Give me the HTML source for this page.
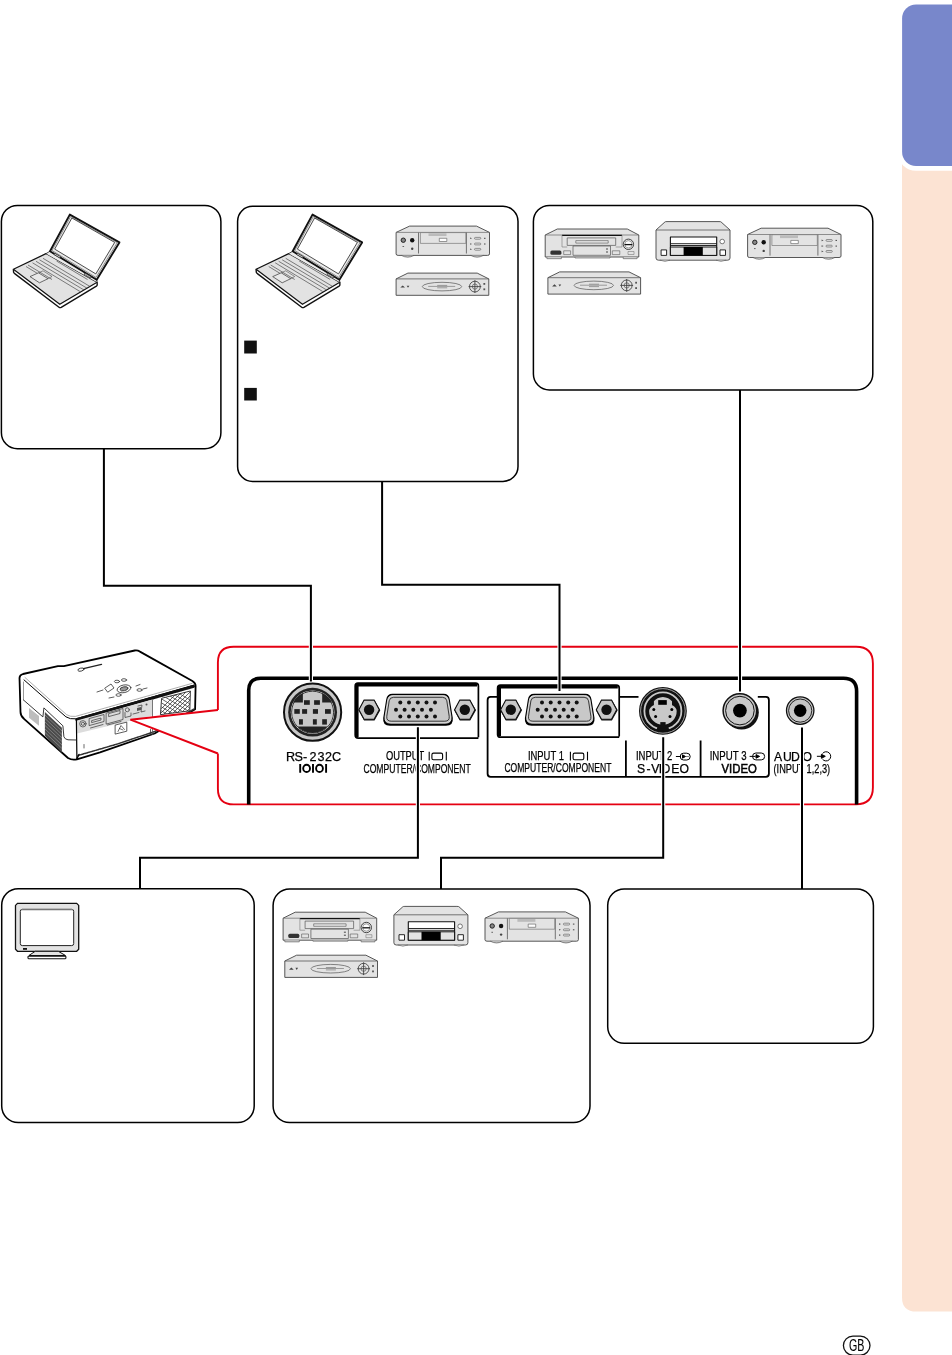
<!DOCTYPE html>
<html><head><meta charset="utf-8">
<style>
html,body{margin:0;padding:0;background:#fff;width:952px;height:1355px;overflow:hidden}
svg{display:block;position:absolute;left:0;top:0;will-change:transform}
text{font-family:"Liberation Sans",sans-serif;fill:#000;stroke:#000;stroke-width:0.25px}
</style></head><body>
<svg width="952" height="1355" viewBox="0 0 952 1355">
<defs>
<g id="vcr" stroke-linejoin="round">
  <path d="M557.3,229 H627.3 L638.8,235 V257 H545.2 V235 Z" fill="#e3e3e3" stroke="#444" stroke-width="0.9"/>
  <path d="M545.2,235 H638.8" stroke="#666" stroke-width="0.7"/>
  <path d="M562,235.4 H622" stroke="#111" stroke-width="1.1"/>
  <path d="M562,235 V247 H567.2 M615.7,247 H622 V235" fill="none" stroke="#777" stroke-width="0.6"/>
  <rect x="567.2" y="237.9" width="48.5" height="7.5" fill="#e3e3e3" stroke="#555" stroke-width="0.7"/>
  <rect x="575.8" y="240.6" width="32.4" height="2.5" fill="#e3e3e3" stroke="#555" stroke-width="0.6"/>
  <rect x="573" y="246" width="37.5" height="9.3" fill="#e3e3e3" stroke="#555" stroke-width="0.7"/>
  <path d="M606,249 h2 M606,252 h2" stroke="#333" stroke-width="0.9"/>
  <circle cx="628.4" cy="244.3" r="5.2" fill="#e3e3e3" stroke="#333" stroke-width="0.9"/>
  <circle cx="628.4" cy="244.3" r="3.6" fill="#fff" stroke="#555" stroke-width="0.5"/>
  <path d="M624.5,244.6 H632.3" stroke="#111" stroke-width="1.3"/>
  <rect x="550.4" y="250.6" width="11" height="4.2" rx="1.5" fill="#333"/>
  <rect x="563.7" y="250.8" width="6.9" height="3.8" fill="none" stroke="#555" stroke-width="0.6"/>
  <rect x="612.3" y="250.8" width="7.5" height="3.8" fill="none" stroke="#555" stroke-width="0.6"/>
  <rect x="628" y="251.5" width="6" height="3" fill="none" stroke="#666" stroke-width="0.5"/>
  <path d="M546.9,257 V258.7 H561.4 V257 M623.2,257 V258.7 H637.1 V257 M575,257 V258 H610 V257" fill="#ccc" stroke="#555" stroke-width="0.6"/>
</g>
<g id="dvd" stroke-linejoin="round">
  <path d="M664.9,222 Q665,221.6 667,221.6 H719 Q721,221.6 721.1,222 L730,230 V258 Q730,260.2 727.5,260.2 H658.5 Q656,260.2 656,258 V230 Z" fill="#e3e3e3" stroke="#444" stroke-width="0.9"/>
  <path d="M656,230 H730" stroke="#555" stroke-width="0.8"/>
  <rect x="670.4" y="237" width="46.3" height="18.4" fill="#fff" stroke="#111" stroke-width="1.1"/>
  <path d="M670.4,243.7 H716.7 M670.4,245.5 H716.7" stroke="#111" stroke-width="0.9"/>
  <rect x="670.4" y="247" width="46.3" height="8.4" fill="#e3e3e3" stroke="#111" stroke-width="1"/>
  <rect x="683.6" y="247" width="19.2" height="8.4" fill="#000"/>
  <rect x="661.1" y="249.9" width="5.5" height="5.5" fill="#fff" stroke="#111" stroke-width="0.9"/>
  <rect x="720" y="249.9" width="5.5" height="5.5" fill="#fff" stroke="#111" stroke-width="0.9"/>
  <circle cx="722.2" cy="241.5" r="2.3" fill="#fff" stroke="#444" stroke-width="0.7"/>
  <path d="M660,260.2 Q665,262.5 670,260.2 M716,260.2 Q721,262.5 726,260.2" fill="#ccc" stroke="#555" stroke-width="0.6"/>
</g>
<g id="cdp" stroke-linejoin="round">
  <path d="M761.1,228.2 H828 L841,234.5 V256 Q841,257.5 839,257.5 H749.6 Q747.6,257.5 747.6,256 V234.5 Z" fill="#e3e3e3" stroke="#444" stroke-width="0.9"/>
  <path d="M747.6,234.5 H841" stroke="#666" stroke-width="0.7"/>
  <path d="M770,234.7 V255.6 M817.9,234.7 V255.6" stroke="#555" stroke-width="0.8"/>
  <rect x="771.9" y="234.7" width="45.4" height="10.8" fill="#e3e3e3" stroke="#666" stroke-width="0.6"/>
  <rect x="780" y="235.3" width="18" height="2.8" fill="#bbb"/>
  <rect x="790.8" y="240.4" width="7.5" height="3.2" fill="#fff" stroke="#555" stroke-width="0.6"/>
  <circle cx="754.8" cy="242.3" r="2.2" fill="#888" stroke="#222" stroke-width="1"/>
  <circle cx="763.7" cy="242.3" r="2.2" fill="#111"/>
  <circle cx="763.7" cy="250.9" r="1.2" fill="#444"/>
  <path d="M754,248.6 h1.6" stroke="#444" stroke-width="0.8"/>
  <g fill="#555"><path d="M821.6,239.6 l2,0.8 l-2,0.8 Z M821.6,245.3 l2,0.8 l-2,0.8 Z M821.6,250.6 l2,0.8 l-2,0.8 Z"/></g>
  <g fill="none" stroke="#555" stroke-width="0.6"><rect x="826" y="239.5" width="6.3" height="1.8" rx="0.9"/><rect x="826" y="245.2" width="6.3" height="1.8" rx="0.9"/><rect x="826" y="250.5" width="6.3" height="1.8" rx="0.9"/></g>
  <path d="M835.5,240.4 h1.5 M835.5,246.1 h1.5" stroke="#444" stroke-width="1"/>
  <path d="M752.9,257.5 Q759.2,261 765.5,257.5 M822.3,257.5 Q828.6,261 834.9,257.5" fill="#ccc" stroke="#555" stroke-width="0.7"/>
</g>
<g id="stb" stroke-linejoin="round">
  <path d="M559.7,271.9 H629 L640.6,277.7 V294.1 H547.9 V277.7 Z" fill="#e3e3e3" stroke="#444" stroke-width="0.9"/>
  <path d="M547.9,277.7 H640.6" stroke="#555" stroke-width="0.8"/>
  <ellipse cx="593.8" cy="285.4" rx="19.7" ry="4.3" fill="none" stroke="#555" stroke-width="0.7"/>
  <path d="M580,285.2 H607 M589,284.2 H599 M589,286.6 H599" stroke="#666" stroke-width="0.6"/>
  <path d="M552.1,286.4 L554.5,284.2 L556.8,286.4 Z M558.5,284.5 H561.2 L559.8,286.6 Z" fill="#444"/>
  <circle cx="626.7" cy="285.4" r="5.4" fill="none" stroke="#333" stroke-width="0.8"/>
  <circle cx="626.7" cy="285.4" r="2.6" fill="none" stroke="#444" stroke-width="0.6"/>
  <path d="M626.7,279 V291.8 M620.3,285.4 H633.1" stroke="#333" stroke-width="0.8"/>
  <rect x="635.2" y="281.8" width="1.8" height="1.8" fill="#555"/><rect x="635.2" y="287.2" width="1.8" height="1.8" fill="#555"/>
</g>
<g id="monitor">
  <path d="M17.5,903.4 H76.7 L78.7,905.4 V949.3 L76.7,951.3 H17.5 L15.5,949.3 V905.4 Z" fill="#e3e3e3" stroke="#111" stroke-width="1.3"/>
  <rect x="20.3" y="909.3" width="53.4" height="36.3" rx="2" fill="#fff" stroke="#222" stroke-width="1"/>
  <path d="M21,909.8 H73" stroke="#888" stroke-width="1"/>
  <rect x="23" y="948" width="4" height="1.8" fill="#111"/>
  <path d="M35.2,951.3 H58.3 L65.5,955.5 H28.9 Z" fill="#e3e3e3" stroke="#111" stroke-width="1"/>
  <rect x="28" y="956.2" width="37.9" height="2.5" rx="0.6" fill="#fff" stroke="#111" stroke-width="1.1"/>
</g>
<g id="laptop" stroke-linejoin="round">
  <path d="M13.4,269.2 L13.6,272.3 Q14,273.2 15,273.9 L59,307.2 Q60,308 61.2,307.4 L96.4,286.2 Q97.3,285.6 97.2,284.6 L97.1,282.2" fill="#fff" stroke="#111" stroke-width="1.4"/>
  <path d="M13.4,269.2 L46,253.6 L97.1,282.2 L59.8,304.3 Z" fill="#e2e2e2" stroke="#111" stroke-width="1.2"/>
  <path d="M46,253.6 L50,251.2 L96.7,279.7 L97.1,282.2" fill="#ececec" stroke="#222" stroke-width="0.8"/>
  <path d="M69.8,214.6 L119.4,242.4 L96.7,279.7 L50,251.2 Z" fill="#fff" stroke="#111" stroke-width="1.9"/>
  <path d="M70.6,216.5 L117.3,242.6 L96,277.5 L52,250.5 Z" fill="#ececec" stroke="#444" stroke-width="0.6"/>
  <path d="M71.9,218 L114.7,242.4 L95.8,273.9 L54.7,249.1 Z" fill="#fff" stroke="#222" stroke-width="0.8"/>
  <path d="M54.7,253.2 L60.6,256.6 L59.8,258 L54,254.6 Z M84.8,273 L91.2,276.8 L90.6,278.2 L84.2,274.4 Z" fill="#ccc" stroke="#222" stroke-width="0.7"/>
  <g stroke="#333" stroke-width="0.6" fill="none">
    <path d="M56.5,261 L87.5,279.5"/>
    <path d="M28,265 L52,279.5 M32.5,262.8 L80,291.5 M36,261.3 L84,290 M39.5,259.8 L87,288.2 M43,258.3 L90,286.5 M26,266.5 L45,278"/>
    <path d="M30,276.6 L38.5,272.8 L48,278.7 L39.5,282.8 Z" fill="#e8e8e8" stroke-width="0.7"/>
    <path d="M38.5,272.8 L43,270.8 L52,276.5 L48,278.7" stroke-width="0.5"/>
  </g>
</g>
</defs>

<!-- sidebar -->
<path d="M902,0 H952 V1311.6 H916.4 Q902,1311.6 902,1297.2 Z" fill="#fce3d3"/>
<rect x="897.4" y="-20" width="80" height="190.8" rx="18.7" fill="#fff"/>
<rect x="902.1" y="4.4" width="80" height="161.7" rx="14" fill="#7887cb"/>

<!-- boxes -->
<g fill="none" stroke="#000" stroke-width="1.5">
  <rect x="1.4" y="205.4" width="219.5" height="243.3" rx="16"/>
  <rect x="237.6" y="206.3" width="280.4" height="275.1" rx="15"/>
  <rect x="533.4" y="205.4" width="339.4" height="184.6" rx="16"/>
  <rect x="1.7" y="888.7" width="252.5" height="233.9" rx="16.5"/>
  <rect x="273.1" y="888.9" width="316.9" height="233.7" rx="16.5"/>
  <rect x="607.7" y="888.9" width="265.7" height="154.4" rx="16.5"/>
</g>

<!-- bullets -->
<rect x="244.2" y="340.6" width="12.6" height="12.9" fill="#111"/>
<rect x="244.2" y="387.9" width="12.6" height="12.6" fill="#111"/>

<use href="#laptop"/>
<use href="#laptop" x="242.7" y="0"/>

<!-- devices -->
<use href="#cdp" x="-351.5" y="-2.1"/>
<use href="#stb" x="-151.8" y="1.2"/>
<use href="#vcr"/><use href="#dvd"/><use href="#cdp"/><use href="#stb"/>
<use href="#vcr" x="-262.1" y="683.2"/><use href="#dvd" x="-262.1" y="684.8"/><use href="#cdp" x="-262.6" y="683.7"/><use href="#stb" x="-263.1" y="683.3"/>
<use href="#monitor"/>

<!-- projector -->
<g id="projector" stroke-linejoin="round" stroke-linecap="round">
  <!-- body fill -->
  <path d="M19.5,678 Q19.5,675 23,674 L57.9,666.1 L63.9,666.1 L134.7,650.5 Q137.5,650 139.9,651.6 L192.4,681 Q195.6,683 195.6,686 L195.1,709.3 L154.6,733.5 L100,752.4 L76.9,759.3 Q72,760.5 68,758 L24,718.8 Q20.5,716 20.5,712 Z" fill="#fff" stroke="#000" stroke-width="1.8"/>
  <!-- top surface front edges -->
  <path d="M24,679.9 L65.9,716.8 Q70,719.5 75.9,718.8 L193.5,685.2" fill="none" stroke="#000" stroke-width="1"/>
  <path d="M25,677.5 L66.5,714.6 Q70,717 75.5,716.4 L192,683.4" fill="none" stroke="#777" stroke-width="0.6"/>
  <!-- port face hatched top band -->
  <path d="M76.7,719.6 L193.5,686.4" fill="none" stroke="#111" stroke-width="3" stroke-dasharray="1.3,0.9"/>
  <!-- port strip gray -->
  <path d="M77,720.5 L152.3,699.5 L152.3,715.5 L77,733.5 Z" fill="#dcdcdc"/>
  <!-- port face left vertical -->
  <path d="M76.4,719.8 L76.9,758.8" fill="none" stroke="#000" stroke-width="1.2"/>
  <!-- bottom double line -->
  <path d="M78,755.5 L116.4,744.3 L154.6,731.6 L194,709" fill="none" stroke="#333" stroke-width="1.5" stroke-dasharray="1.4,0.9"/>
  <path d="M152.5,700 V734.5" stroke="#555" stroke-width="0.8"/>
  <!-- right grille -->
  <clipPath id="grclip"><path d="M162,698.2 L190.4,691 L189.8,710.8 L160.8,714.6 Z"/></clipPath>
  <path d="M162,698.2 L190.4,691 L189.8,710.8 L160.8,714.6 Z" fill="#fff" stroke="#222" stroke-width="0.9"/>
  <g clip-path="url(#grclip)" stroke="#333" stroke-width="0.75">
    <path d="M150,700 L200,730 M150,696 L200,726 M150,692 L200,722 M150,688 L200,718 M150,684 L200,714 M150,680 L200,710 M150,676 L200,706 M150,704 L200,734 M150,708 L200,738 M150,712 L200,742 M150,716 L200,746 M150,720 L200,750"/>
    <path d="M150,740 L200,690 M150,736 L200,686 M150,732 L200,682 M150,728 L200,678 M150,724 L200,674 M150,720 L200,670 M150,744 L200,694 M150,748 L200,698 M150,752 L200,702 M150,756 L200,706 M150,760 L200,710 M150,764 L200,714"/>
  </g>
  <!-- ports on strip -->
  <g fill="none" stroke="#333" stroke-width="0.7">
    <circle cx="82.9" cy="723.8" r="3.2"/><circle cx="82.9" cy="723.8" r="1.6"/>
    <path d="M89.5,718.5 L104,714.5 L104,721.5 L89.5,725.5 Z"/>
    <path d="M92,720.5 L101,718 L101,720 L92,722.5 Z"/>
    <path d="M106.5,713 L123,708.5 L123,719.5 L106.5,724 Z"/>
    <path d="M109,713.5 L120,710.5 L120,713.5 L109,716.5 Z"/>
    <path d="M90.5,728 L103,724.5 M107.5,725 L121,721.5"/>
    <circle cx="127.3" cy="709.8" r="2"/>
    <path d="M125,712.5 V717.5 L131,716 V713"/>
    <path d="M133,714 L139,712.5 M138,706 L142,705 L141,712 L145,711"/>
  </g>
  <g fill="#555"><circle cx="146.5" cy="704.5" r="1"/><path d="M137,708 L141,707 L141,710 L137,711 Z"/></g>
  <!-- logo symbol on face -->
  <path d="M115.5,725 L126.8,722.1 L126.8,731.2 L115.5,734 Z" fill="none" stroke="#333" stroke-width="0.8"/>
  <path d="M118,731.5 L121,725.5 L124.5,729.5 M119.5,728.5 L123,730" fill="none" stroke="#333" stroke-width="0.7"/>
  <!-- left face lines -->
  <path d="M23.5,700 L42.9,716.9 L43.9,707.9 L62.9,725.8 L63.9,736.8 Q65,739.5 68,739.8 L76,740" fill="none" stroke="#222" stroke-width="0.9"/>
  <path d="M23.5,682 V700" fill="none" stroke="#555" stroke-width="0.6"/>
  <!-- dark grille -->
  <path d="M44.9,711.9 L61.9,727.8 L61.9,752.8 L44.9,735.8 Z" fill="#4a4a4a"/>
  <g stroke="#bbb" stroke-width="0.45">
    <path d="M45,715 L61.8,730.8"/><path d="M45,718.5 L61.8,734.3"/><path d="M45,722 L61.8,737.8"/><path d="M45,725.5 L61.8,741.3"/><path d="M45,729 L61.8,744.8"/><path d="M45,732.5 L61.8,748.3"/>
  </g>
  <!-- light grille -->
  <path d="M29,707.9 L39,715.9 L39,725.8 L29,717.8 Z" fill="#bdbdbd"/>
  <!-- top controls -->
  <g fill="none" stroke="#333" stroke-width="0.8">
    <ellipse cx="124" cy="688.8" rx="7" ry="3.8" transform="rotate(-12 124 688.8)"/>
    <ellipse cx="124" cy="688.8" rx="4" ry="2" fill="#999" transform="rotate(-12 124 688.8)"/>
    <path d="M105,688 L111,684 L114,688 L108,692 Z"/>
    <ellipse cx="117" cy="681.5" rx="2.6" ry="1.3"/><ellipse cx="124" cy="680" rx="2.6" ry="1.3"/>
    <ellipse cx="139.5" cy="690" rx="2.6" ry="1.3"/><ellipse cx="118.5" cy="695" rx="2.6" ry="1.3"/>
    <path d="M97,692 L103,690 M109,698 L114,697 M136,686 L140,684.5 M143,689 L147,688"/>
  </g>
  <ellipse cx="81" cy="669.6" rx="3.2" ry="1.5" transform="rotate(-14 81 669.6)" fill="none" stroke="#222" stroke-width="0.8"/><path d="M83.5,668.6 L101.5,664.4" stroke="#222" stroke-width="1.4"/>
  <!-- front foot bits -->
  <path d="M77,758.5 L79,754.5" stroke="#000" stroke-width="1.4"/>
  <path d="M84,744.5 V748" stroke="#444" stroke-width="0.8"/>
  <path d="M150.5,729.5 V734.5 L153.5,733.5" fill="none" stroke="#333" stroke-width="0.8"/>
</g>

<!-- red frame -->
<g fill="none" stroke="#e50012" stroke-width="1.9" stroke-linejoin="miter">
  <path d="M217.9,710 V662.5 Q217.9,646.8 233.6,646.8 H856.1 Q872.9,646.8 872.9,663.6 V787.6 Q872.9,804.4 856.1,804.4 H233.6 Q217.9,804.4 217.9,788.7 V753.5"/>
  <path d="M217.9,710 L130.4,719.7 L217.9,753.5" fill="#fff"/>
</g>
<!-- black panel -->
<path d="M248.7,804.4 V690.3 Q248.7,678.2 260.7,678.2 H843.5 Q856.6,678.2 856.6,691.2 V804.4" fill="none" stroke="#000" stroke-width="3.6"/>

<!-- RS-232C port -->
<g>
  <circle cx="312.6" cy="712.2" r="28.6" fill="#c8c8c8" stroke="#111" stroke-width="2"/>
  <circle cx="312.6" cy="712.2" r="24.4" fill="#222"/>
  <circle cx="312.6" cy="712.2" r="21.8" fill="#fff"/>
  <circle cx="312.6" cy="712.2" r="21" fill="#c8c8c8" stroke="#222" stroke-width="0.9"/>
  <path d="M302.9,702.5 V693 A21,21 0 0 0 293,702.5 Z" fill="#222"/>
  <path d="M322.2,702.5 V693 A21,21 0 0 1 332.2,702.5 Z" fill="#222"/>
  <path d="M297.5,726.6 H327.7 A21,21 0 0 1 297.5,726.6 Z" fill="#222"/>
  <g fill="#222">
    <rect x="304" y="700.2" width="5.8" height="4.6"/><rect x="314.1" y="700.2" width="5.8" height="4.6"/>
    <rect x="294.3" y="709.1" width="5.5" height="4.7"/><rect x="302.1" y="709.1" width="5" height="4.7"/>
    <rect x="312.9" y="709.1" width="5.1" height="4.7"/><rect x="325" y="709.1" width="5.8" height="4.7"/>
    <rect x="299" y="719.2" width="3.9" height="5.4"/><rect x="312.9" y="719.2" width="3.9" height="5.4"/>
    <rect x="322.2" y="719.2" width="4.7" height="5.4"/>
  </g>
</g>
<text x="286 294.5 303 309.6 317.5 325.1 332.1" y="760.7" font-size="12.6">RS-232C</text>
<g fill="none" stroke="#000" stroke-width="1.9">
  <path d="M300.2,764.1 V772.7 M313,764.1 V772.7 M326.1,764.1 V772.7"/>
  <ellipse cx="306.6" cy="768.4" rx="3.4" ry="3.6"/>
  <ellipse cx="319.5" cy="768.4" rx="3.4" ry="3.6"/>
</g>

<!-- output box -->
<g id="vgabox">
  <path d="M478.4,737.3 V686 Q478.4,683.2 475.6,683.2 H358 Q355.2,683.2 355.2,686 V735 Q355.2,738.1 358.3,738.1 H478.4" fill="none" stroke="#000" stroke-width="1.7"/>
  <path d="M356.9,737 V686.5 Q356.9,684.9 358.5,684.9 H477" fill="none" stroke="#000" stroke-width="3.4"/>
</g>
<g id="vga">
  <path d="M392.5,693.8 H443.5 Q449,693.8 449.8,699.5 L452.8,718 Q453.6,725.8 446,725.8 H390 Q382.4,725.8 383.2,718 L386.2,699.5 Q387,693.8 392.5,693.8 Z" fill="#000"/>
  <path d="M393,695.6 H443 Q447.6,695.6 448.3,700 L451,717 Q451.6,723.2 445.6,723.2 H390.4 Q384.4,723.2 385,717 L387.7,700 Q388.4,695.6 393,695.6 Z" fill="#c8c8c8" stroke="#fff" stroke-width="0.7"/>
  <path d="M393.6,697.3 H442.4 Q446.2,697.3 446.8,700.8 L449.2,716.3 Q449.7,721.2 444.8,721.2 H391.2 Q386.3,721.2 386.8,716.3 L389.2,700.8 Q389.8,697.3 393.6,697.3 Z" fill="none" stroke="#111" stroke-width="0.8"/>
  <g fill="#111">
    <circle cx="400.3" cy="702.6" r="2"/><circle cx="409" cy="702.6" r="2"/><circle cx="417.8" cy="702.6" r="2"/><circle cx="426.5" cy="702.6" r="2"/><circle cx="435" cy="702.6" r="2"/>
    <circle cx="396" cy="709.7" r="2"/><circle cx="404.6" cy="709.7" r="2"/><circle cx="413.3" cy="709.7" r="2"/><circle cx="422" cy="709.7" r="2"/><circle cx="430.9" cy="709.7" r="2"/>
    <circle cx="400.3" cy="716.5" r="2"/><circle cx="409" cy="716.5" r="2"/><circle cx="417.8" cy="716.5" r="2"/><circle cx="426.5" cy="716.5" r="2"/><circle cx="435" cy="716.5" r="2"/>
  </g>
  <g id="nut">
    <path d="M-5,-9.6 H5.4 L11.2,0.6 L5.4,10.8 H-5 L-10.6,0.6 Z" transform="translate(369.1,709.7)" fill="#111"/>
    <path d="M-5,-9.6 H5 L10.2,0 L5,9.6 H-5 L-10.2,0 Z" transform="translate(369.1,709.7)" fill="#c8c8c8" stroke="#111" stroke-width="1.1"/>
    <circle cx="369.1" cy="709.7" r="5.2" fill="#111"/>
  </g>
  <use href="#nut" x="95.7"/>
</g>
<text x="385.9" y="760.1" font-size="11.9" textLength="38.4" lengthAdjust="spacingAndGlyphs">OUTPUT</text>
<g id="pcicon" fill="none" stroke="#000">
  <path d="M429.2,751.8 V760.6 M446.3,751.8 V760.6" stroke-width="1.1"/>
  <rect x="431.9" y="753.1" width="10.7" height="6.7" rx="1.6" stroke-width="1.1"/>
</g>
<text x="363.5" y="772.7" font-size="11.9" textLength="107.2" lengthAdjust="spacingAndGlyphs">COMPUTER/COMPONENT</text>

<!-- input 1 -->
<path d="M619.2,736.4 V688 Q619.2,685.1 616.4,685.1 H500.5 Q497.6,685.1 497.6,688 V734.4 Q497.6,737.2 500.5,737.2 H619.2" fill="none" stroke="#000" stroke-width="1.7"/>
<path d="M499.3,736 V688.5 Q499.3,686.8 501,686.8 H617.8" fill="none" stroke="#000" stroke-width="3.4"/>
<use href="#vga" x="141.7"/>
<text x="527.9" y="760" font-size="11.9" textLength="36" lengthAdjust="spacingAndGlyphs">INPUT 1</text>
<use href="#pcicon" x="141.2"/>
<text x="504.4" y="772.4" font-size="11.9" textLength="107" lengthAdjust="spacingAndGlyphs">COMPUTER/COMPONENT</text>

<!-- input bracket -->
<g fill="none" stroke="#000" stroke-width="1.8">
  <path d="M497.6,696.9 H490.6 Q487.6,696.9 487.6,699.9 V773.8 Q487.6,776.8 490.6,776.8 H765.9 Q768.9,776.8 768.9,773.8 V699.9 Q768.9,696.9 765.9,696.9 H757.8"/>
  <path d="M620,696.9 H638.5"/>
  <path d="M625.9,740.6 V776.8 M700.6,740.6 V776.8"/>
</g>

<!-- S-video -->
<g>
  <circle cx="662.9" cy="710.9" r="23.9" fill="#111"/>
  <circle cx="662.9" cy="710.9" r="22.3" fill="none" stroke="#c8c8c8" stroke-width="0.8"/>
  <circle cx="662.9" cy="710.9" r="18.5" fill="none" stroke="#c8c8c8" stroke-width="1.8"/>
  <path d="M658.5,731 L667.3,731 L667.3,725 L658.5,725 Z" fill="#111"/>
  <path d="M657.8,725.5 L668,725.5 L669.5,731 L656.3,731 Z" fill="#111"/>
  <path d="M653.5,701.5 Q657,697.5 662.9,697.1 Q668.8,697.5 672.3,701.5 L672.3,705 Q676.7,708 676.7,711 A13.8,13.8 0 0 1 649.1,711 Q649.1,708 653.5,705 Z" fill="#c8c8c8"/>
  <path d="M649.4,705.2 H653.8 V699.8 A13.8,13.8 0 0 0 649.4,705.2 Z" fill="#111"/>
  <path d="M676.4,705.2 H672 V699.8 A13.8,13.8 0 0 1 676.4,705.2 Z" fill="#111"/>
  <rect x="658.2" y="700.1" width="8.6" height="4.7" fill="#000"/>
  <rect x="660.3" y="722.1" width="5.3" height="6" fill="#111"/>
  <g fill="#000"><circle cx="653.8" cy="709.5" r="1.5"/><circle cx="671.8" cy="709.5" r="1.5"/><circle cx="655.6" cy="716.5" r="1.5"/><circle cx="670" cy="716.5" r="1.5"/></g>
</g>
<text x="635.9" y="760.1" font-size="11.9" textLength="36.3" lengthAdjust="spacingAndGlyphs">INPUT 2</text>
<g fill="none" stroke="#000" stroke-width="1">
  <path d="M675.9,756.5 H681"/>
  <rect x="680.2" y="753.2" width="10" height="6.8" rx="3.4"/>
  <path d="M682.5,754.8 L685.5,756.5 L682.5,758.2 Z" fill="#000"/>
  <path d="M686.5,756.5 H689" stroke-dasharray="1,1"/>
</g>
<text x="637.05 646.4 651.25 658.8 661.6 671.2 679.6" y="772.5" font-size="12.2">S-VIDEO</text>

<!-- video jack -->
<g>
  <circle cx="741.6" cy="712.3" r="17.2" fill="#111"/>
  <circle cx="739.9" cy="710.6" r="16.8" fill="#c8c8c8" stroke="#111" stroke-width="1.5"/>
  <circle cx="739.9" cy="710.6" r="14.3" fill="#c8c8c8" stroke="#111" stroke-width="1"/>
  <circle cx="739.9" cy="710.6" r="6.9" fill="#000"/>
</g>
<text x="709.7" y="760.1" font-size="11.9" textLength="36.8" lengthAdjust="spacingAndGlyphs">INPUT 3</text>
<g id="inicon" fill="none" stroke="#000" stroke-width="1">
  <path d="M749.6,756.4 H755.5"/>
  <rect x="752.6" y="753" width="12" height="6.9" rx="3.3"/>
  <path d="M756,754.6 L759.6,756.4 L756,758.2 Z" fill="#000"/>
</g>
<text x="721.5" y="772.5" font-size="12.2" textLength="35.3" lengthAdjust="spacingAndGlyphs" stroke="#000" style="stroke-width:0.5px">VIDEO</text>

<!-- audio jack -->
<g>
  <circle cx="800.2" cy="710.6" r="13.7" fill="#c8c8c8" stroke="#111" stroke-width="1.3"/>
  <circle cx="800.2" cy="710.6" r="11.6" fill="none" stroke="#111" stroke-width="0.9"/>
  <circle cx="800.2" cy="710.6" r="6.3" fill="#000"/>
</g>
<text x="774.1 783 791 799.5 802.5" y="760.6" font-size="12.2">AUDIO</text>
<g fill="none" stroke="#000" stroke-width="1">
  <path d="M816.9,756.3 H823"/>
  <path d="M822.5,753.5 A4.6,4.6 0 1 1 822.5,759.2"/>
  <path d="M821.4,754.3 L825.3,756.3 L821.4,758.3 Z" fill="#000"/>
</g>
<text x="773.5" y="772.7" font-size="11.9" textLength="56.7" lengthAdjust="spacingAndGlyphs">(INPUT 1,2,3)</text>

<!-- connector lines -->
<g fill="none" stroke="#fff" stroke-width="4.2">
  <path d="M310.9,620 V681.6"/>
  <path d="M559.5,620 V691"/>
  <path d="M740,620 V691.4"/>
  <path d="M417.9,727.2 V830"/>
  <path d="M663.2,737.2 V830"/>
  <path d="M802,727.4 V830"/>
</g>
<g fill="none" stroke="#000" stroke-width="2">
  <path d="M103.9,448.7 V585.8 H310.9 V681.6"/>
  <path d="M382.1,481.4 V584.8 H559.5 V691"/>
  <path d="M740,390 V691.4"/>
  <path d="M417.9,727.2 V857.8 H140 V888.7"/>
  <path d="M663.2,737.2 V857.8 H441 V888.9"/>
  <path d="M802,727.4 V888.9"/>
</g>

<!-- GB badge -->
<rect x="843.4" y="1336.1" width="26.6" height="19" rx="9.5" fill="none" stroke="#111" stroke-width="1.3"/>
<text x="856.6" y="1351.3" font-size="16" text-anchor="middle" textLength="15.4" lengthAdjust="spacingAndGlyphs" style="stroke-width:0.1px">GB</text>

</svg>
</body></html>
